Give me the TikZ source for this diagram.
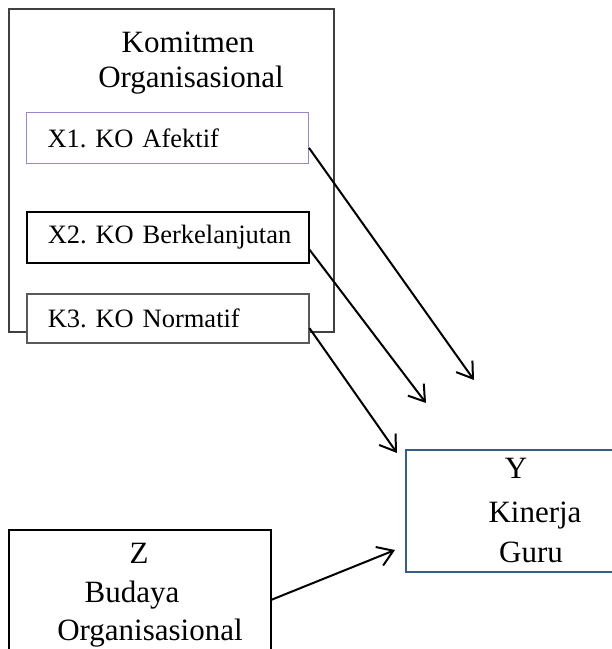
\documentclass[tikz,border=0pt]{standalone}
\usepackage{fontspec}
\setmainfont{Liberation Serif}
\frenchspacing
\usetikzlibrary{arrows.meta}
\definecolor{kogray}{HTML}{404040}
\definecolor{afpurple}{HTML}{9D85C9}
\definecolor{nmgray}{HTML}{595959}
\definecolor{yblue}{HTML}{385D8A}
\newcommand{\bigfont}{\fontsize{31}{35}\selectfont}
\newcommand{\smallfont}{\fontsize{26.5}{30}\selectfont}
\tikzset{
	box/.style={draw, line width=1.5pt, anchor=north west, inner sep=0pt, fill=white},
	dimbox/.style={box, minimum width=282pt, text width=282pt, inner xsep=0pt, align=left,
		font=\smallfont, execute at begin node={\hspace*{21pt}}},
	tline/.style={font=\bigfont, inner sep=0pt, anchor=base},
	link/.style={line width=2pt, -{Straight Barb[length=15pt, width=20pt]}}
}
\begin{document}
\begin{tikzpicture}[x=1pt, y=-1pt]
		\useasboundingbox (0,0) rectangle (612,649);
		\clip (0,0) rectangle (612,649);
		% Komitmen Organisasional
		\node[box, draw=kogray, line width=1.9pt, minimum width=325pt, minimum height=323pt] (ko) at (8,8) {};
		\node[tline] (kot1) at (188,52) {Komitmen};
		\node[tline] (kot2) at (191,87) {Organisasional};
		\node[dimbox, draw=afpurple, line width=1pt, minimum height=51pt] (x1) at (26,112) {X1. KO Afektif};
		\node[dimbox, minimum height=51pt] (x2) at (26,211) {X2. KO Berkelanjutan};
		\node[dimbox, draw=nmgray, minimum height=49pt] (k3) at (26,293) {K3. KO Normatif};
		% Kinerja Guru
		\node[box, draw=yblue, minimum width=260pt, minimum height=122pt] (y) at (405,449) {};
		\node[tline] (yt1) at (516,478) {Y};
		\node[tline] (yt2) at (535,522) {Kinerja};
		\node[tline] (yt3) at (531,562) {Guru};
		% Budaya Organisasional
		\node[box, minimum width=262pt, minimum height=140pt] (z) at (8,529) {};
		\node[tline] (zt1) at (139,563) {Z};
		\node[tline] (zt2) at (132,602) {Budaya};
		\node[tline] (zt3) at (150,640) {Organisasional};
		% arrows
		\coordinate (tip1) at (474,380);
		\coordinate (tip2) at (426,403);
		\coordinate (tip3) at (397,453);
		\coordinate (tipz) at (395,550);
		\draw[link] (x1.-4.3) -- (tip1);
		\draw[link] (x2.-5.9) -- (tip2);
		\draw[link] (k3.-4.7) -- (tip3);
		\draw[link] (z.east) -- (tipz);
		\end{tikzpicture}
\end{document}
